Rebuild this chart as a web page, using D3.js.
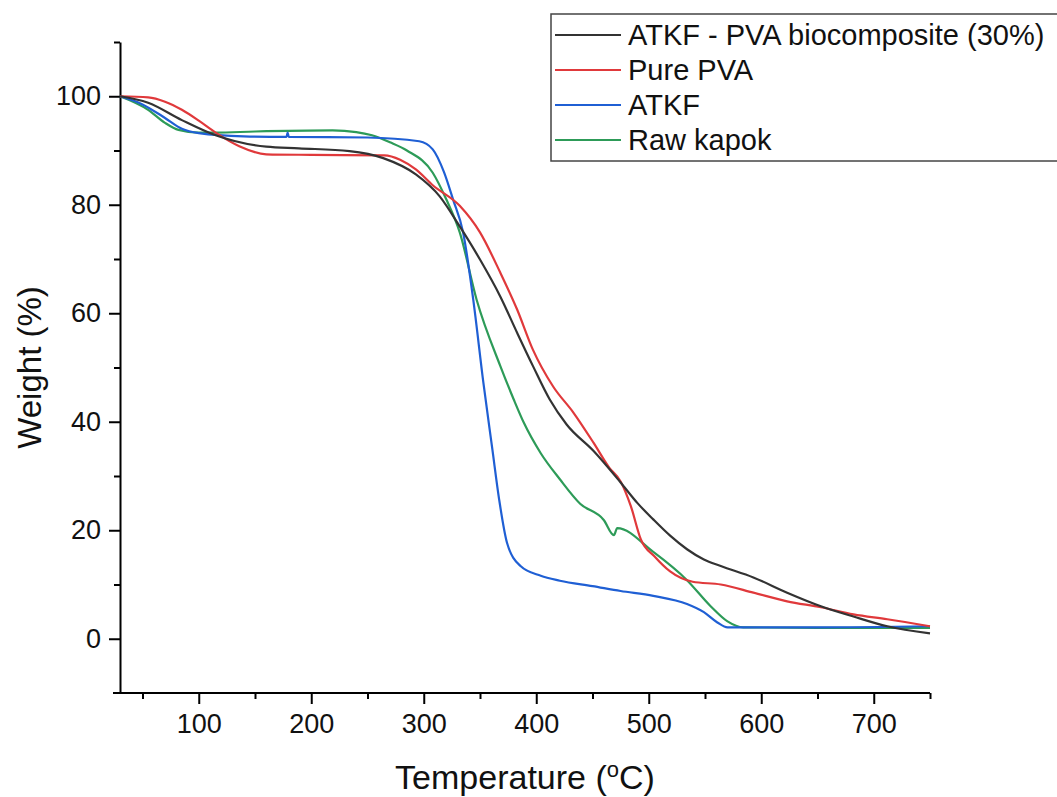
<!DOCTYPE html>
<html>
<head>
<meta charset="utf-8">
<script src="https://cdn.jsdelivr.net/npm/d3@7"></script>
<style>
  body { margin: 0; background: #fff; }
  svg { display: block; font-family: Arial, "Liberation Sans", sans-serif; }
</style>
</head>
<body>
<div id="chart"></div>
<script>
// TGA curves
const seriesNames = ["ATKF - PVA biocomposite (30%)", "Pure PVA", "ATKF", "Raw kapok"];
const seriesColors = ["#333333", "#e0393b", "#1f5fd4", "#2d9b58"];

const compositeTemp = [30, 55, 85, 115, 160, 189, 234, 264, 293, 314, 332, 350, 368, 383, 397, 412, 427, 451, 475, 490, 504, 519, 534, 549, 564, 593, 623, 653, 682, 712, 750];
const compositeWeight = [100, 98.8, 95.6, 92.8, 90.7, 90.4, 89.9, 88.6, 85.6, 81.6, 76, 69.9, 63.1, 56.4, 50.3, 44.1, 39.5, 34.6, 28.8, 25, 22, 19, 16.5, 14.6, 13.4, 11.3, 8.5, 6.0, 4.1, 2.3, 1.0];

const pvaTemp = [30, 55, 70, 85, 100, 115, 136, 160, 200, 265, 279, 293, 308, 332, 350, 368, 383, 397, 415, 433, 451, 465, 475, 484, 493, 505, 519, 539, 564, 593, 623, 653, 682, 712, 750];
const pvaWeight = [100, 99.8, 99, 97.5, 95.5, 93.3, 90.8, 89.3, 89.2, 89.1, 88.3, 86.5, 83.6, 79.8, 74.9, 67.5, 60.7, 53.3, 46.5, 41.7, 36.1, 31.5, 29, 24.5, 18.3, 15.2, 12.4, 10.5, 10, 8.5, 6.9, 5.8, 4.5, 3.6, 2.3];

const atkfTemp = [30, 50, 70, 85, 100, 140, 178, 179, 180, 250, 296, 308, 318, 326, 335, 344, 353, 361, 367, 374, 386, 404, 421, 450, 475, 504, 534, 549, 561, 570, 650, 750];
const atkfWeight = [100, 98.5, 96, 94, 93.2, 92.6, 92.5, 93.3, 92.5, 92.4, 91.7, 90.2, 86, 81, 74.9, 62.5, 47.2, 34.9, 25.7, 17.7, 13.4, 11.6, 10.7, 9.7, 8.8, 7.9, 6.4, 4.9, 3.0, 2.1, 2.1, 2.3];

const kapokTemp = [30, 55, 70, 82, 100, 115, 150, 219, 240, 254, 270, 285, 308, 320, 332, 347, 368, 380, 389, 404, 421, 439, 460, 469, 472, 504, 534, 555, 570, 584, 650, 750];
const kapokWeight = [100, 97.5, 95.1, 93.8, 93.3, 93.3, 93.5, 93.7, 93.4, 92.8, 91.5, 90, 85.9, 81, 74.9, 62.5, 50.3, 44.1, 39.8, 34.2, 29.4, 24.9, 21.9, 19.1, 20.4, 16, 10.8, 6, 3.2, 2.1, 2.0, 2.0];

const xTicks = [100, 200, 300, 400, 500, 600, 700];
const xMinorTicks = [50, 150, 250, 350, 450, 550, 650, 750];
const yTicks = [0, 20, 40, 60, 80, 100];
const yMinorTicks = [10, 30, 50, 70, 90, 110];

const W = 1057, H = 797;
const margin = {top: 42, right: 127, bottom: 104, left: 120};
const width = W - margin.left - margin.right;
const height = H - margin.top - margin.bottom;

const svg = d3.select("#chart").append("svg")
    .attr("width", W)
    .attr("height", H);

const g = svg.append("g")
    .attr("transform", "translate(" + margin.left + "," + margin.top + ")");

let x = d3.scaleLinear().domain([30, 750]).range([0, width]);
let y = d3.scaleLinear().domain([-10, 110]).range([height, 0]);

// axes: major ticks with labels, minor ticks without
const xAxis = g.append("g")
    .attr("transform", "translate(0," + height + ")")
    .call(d3.axisBottom(x).tickValues(xTicks).tickSize(11).tickSizeOuter(0).tickPadding(10));
g.append("g")
    .attr("transform", "translate(0," + height + ")")
    .call(d3.axisBottom(x).tickValues(xMinorTicks).tickSize(6).tickFormat("").tickSizeOuter(0))
    .select(".domain").remove();

const yAxis = g.append("g")
    .call(d3.axisLeft(y).tickValues(yTicks).tickSize(11).tickSizeOuter(0).tickPadding(8));
g.append("g")
    .call(d3.axisLeft(y).tickValues(yMinorTicks).tickSize(6).tickFormat("").tickSizeOuter(0))
    .select(".domain").remove();

// extend bottom axis line a little to the left like the original
xAxis.select(".domain").attr("d", "M-7,0H" + width);

g.selectAll(".domain, .tick line")
    .attr("stroke", "#000")
    .attr("stroke-width", 2);
g.selectAll(".tick text")
    .attr("fill", "#111")
    .style("font-size", "27px");

// curves
let data = [
    {name: seriesNames[0], temp: compositeTemp, weight: compositeWeight},
    {name: seriesNames[1], temp: pvaTemp, weight: pvaWeight},
    {name: seriesNames[2], temp: atkfTemp, weight: atkfWeight},
    {name: seriesNames[3], temp: kapokTemp, weight: kapokWeight}
];

let line = d3.line()
    .x(function(d) { return x(d[0]); })
    .y(function(d) { return y(d[1]); })
    .curve(d3.curveMonotoneX);

// drawn in reverse so the composite curve sits on top
g.append("g")
    .selectAll("path")
    .data(data.slice().reverse())
    .enter().append("path")
    .attr("fill", "none")
    .attr("stroke", function(d) { return seriesColors[seriesNames.indexOf(d.name)]; })
    .attr("stroke-width", 2.2)
    .attr("stroke-linejoin", "round")
    .attr("d", function(d) { return line(d3.zip(d.temp, d.weight)); });

// axis titles
svg.append("text")
    .attr("transform", "translate(41," + (margin.top + y(50)) + ")rotate(-90)")
    .attr("text-anchor", "middle")
    .style("font-size", "33px")
    .attr("fill", "#111")
    .text("Weight (%)");

const xTitle = svg.append("text")
    .attr("x", margin.left + x(390))
    .attr("y", 789)
    .attr("text-anchor", "middle")
    .style("font-size", "34px")
    .attr("fill", "#111");
xTitle.append("tspan").text("Temperature (");
xTitle.append("tspan").attr("baseline-shift", "super").style("font-size", "22px").text("o");
xTitle.append("tspan").text("C)");

// legend box, cut at the right edge like the original
const legend = svg.append("g").attr("transform", "translate(551,14)");
legend.append("rect")
    .attr("width", 520)
    .attr("height", 147)
    .attr("fill", "#fff")
    .attr("stroke", "#444")
    .attr("stroke-width", 1.5);

legend.selectAll("line")
    .data(seriesNames)
    .enter().append("line")
    .attr("x1", 4)
    .attr("x2", 70)
    .attr("y1", function(d, i) { return 21 + i * 35; })
    .attr("y2", function(d, i) { return 21 + i * 35; })
    .attr("stroke", function(d, i) { return seriesColors[i]; })
    .attr("stroke-width", 2);

legend.selectAll("text")
    .data(seriesNames)
    .enter().append("text")
    .attr("x", 77)
    .attr("y", function(d, i) { return 21 + i * 35; })
    .attr("dy", "0.35em")
    .style("font-size", "29px")
    .attr("fill", "#111")
    .text(function(d) { return d; });
</script>
</body>
</html>
